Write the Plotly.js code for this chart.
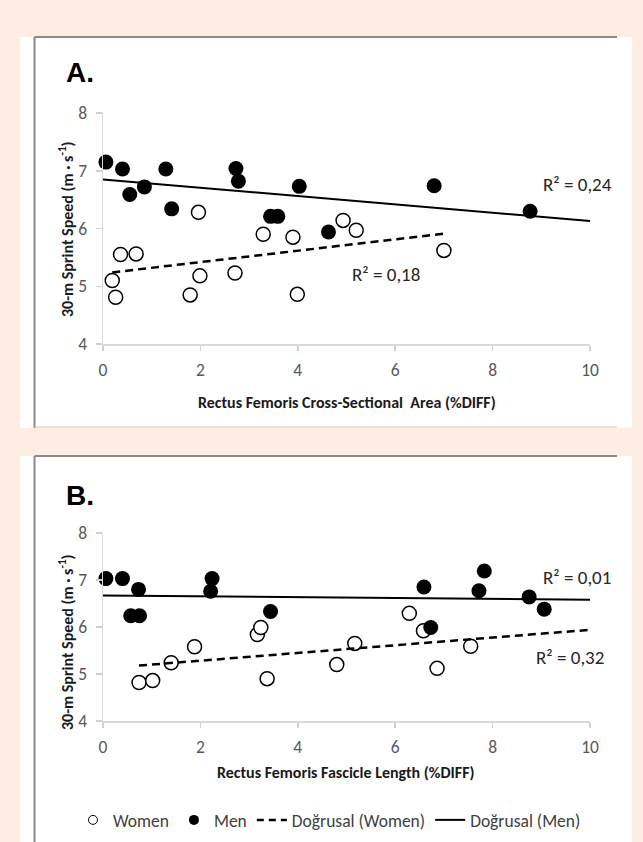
<!DOCTYPE html>
<html>
<head>
<meta charset="utf-8">
<script src="https://cdn.plot.ly/plotly-3.0.1.min.js"></script>
<style>html,body{margin:0;padding:0;background:#fdede3;}#chart{width:643px;height:842px;}</style>
</head>
<body>
<div id="chart"></div>
<script>
// ---- Data ----
// Panel A: Rectus Femoris Cross-Sectional Area (%DIFF)
const womenA_x = [0.19, 0.26, 0.36, 0.68, 1.79, 1.96, 1.99, 2.71, 3.29, 3.90, 3.99, 4.93, 5.20, 7.00];
const womenA_y = [5.10, 4.81, 5.55, 5.56, 4.85, 6.28, 5.18, 5.23, 5.90, 5.85, 4.86, 6.14, 5.97, 5.62];
const menA_x   = [0.06, 0.40, 0.55, 0.85, 1.29, 1.41, 2.73, 2.78, 3.44, 3.59, 4.03, 4.63, 6.80, 8.77];
const menA_y   = [7.15, 7.03, 6.59, 6.72, 7.03, 6.34, 7.04, 6.82, 6.21, 6.21, 6.73, 5.94, 6.74, 6.30];
const trendWomenA_x = [0.19, 7.00];
const trendWomenA_y = [5.24, 5.91];
const trendMenA_x   = [0, 10];
const trendMenA_y   = [6.85, 6.13];

// Panel B: Rectus Femoris Fascicle Length (%DIFF)
const womenB_x = [0.74, 1.02, 1.40, 1.88, 3.17, 3.24, 3.37, 4.80, 5.17, 6.29, 6.58, 6.86, 7.55];
const womenB_y = [4.82, 4.86, 5.24, 5.58, 5.84, 5.99, 4.90, 5.20, 5.65, 6.29, 5.92, 5.12, 5.59];
const menB_x   = [0.06, 0.40, 0.57, 0.73, 0.75, 2.21, 2.24, 3.44, 6.59, 6.73, 7.72, 7.83, 8.75, 9.06];
const menB_y   = [7.03, 7.03, 6.24, 6.80, 6.24, 6.76, 7.03, 6.33, 6.85, 5.99, 6.77, 7.19, 6.64, 6.38];
const trendWomenB_x = [0.74, 10];
const trendWomenB_y = [5.18, 5.94];
const trendMenB_x   = [0, 10];
const trendMenB_y   = [6.67, 6.58];

const xTicks = [0, 2, 4, 6, 8, 10];
const yTicks = [4, 5, 6, 7, 8];
const r2Labels = ["R² = 0,24", "R² = 0,18", "R² = 0,01", "R² = 0,32"];
const legendNames = ["Women", "Men", "Doğrusal (Women)", "Doğrusal (Men)"];
const xTitles = ["Rectus Femoris Cross-Sectional  Area (%DIFF)", "Rectus Femoris Fascicle Length (%DIFF)"];
const yTitle = "30-m Sprint Speed (m · s<sup>-1</sup>)";
const panelLabels = ["A.", "B."];

// ---- Layout helpers ----
const W = 643, H = 842;
const px = v => v / W;
const py = v => 1 - v / H;
const FONT = "Carlito, 'Liberation Sans Narrow', 'Open Sans', sans-serif";

const womenMarker = {symbol: 'circle', size: 14, color: '#ffffff', line: {color: '#000000', width: 1.5}};
const menMarker = {symbol: 'circle', size: 15, color: '#000000', line: {width: 0}};

function panelTraces(wx, wy, mx, my, twx, twy, tmx, tmy, xa, ya) {
  return [
    {x: wx, y: wy, xaxis: xa, yaxis: ya, type: 'scatter', mode: 'markers', marker: womenMarker, showlegend: false, cliponaxis: false, hoverinfo: 'x+y'},
    {x: mx, y: my, xaxis: xa, yaxis: ya, type: 'scatter', mode: 'markers', marker: menMarker, showlegend: false, cliponaxis: false, hoverinfo: 'x+y'},
    {x: twx, y: twy, xaxis: xa, yaxis: ya, type: 'scatter', mode: 'lines', line: {color: '#000000', width: 2.5, dash: '8px,5px'}, showlegend: false},
    {x: tmx, y: tmy, xaxis: xa, yaxis: ya, type: 'scatter', mode: 'lines', line: {color: '#000000', width: 2}, showlegend: false}
  ];
}

const traces = [].concat(
  panelTraces(womenA_x, womenA_y, menA_x, menA_y, trendWomenA_x, trendWomenA_y, trendMenA_x, trendMenA_y, 'x', 'y'),
  panelTraces(womenB_x, womenB_y, menB_x, menB_y, trendWomenB_x, trendWomenB_y, trendMenB_x, trendMenB_y, 'x2', 'y2'),
  [
    {x: [null], y: [null], xaxis: 'x2', yaxis: 'y2', type: 'scatter', mode: 'markers', name: legendNames[0], marker: {symbol: 'circle', size: 9, color: '#ffffff', line: {color: '#000000', width: 1}}},
    {x: [null], y: [null], xaxis: 'x2', yaxis: 'y2', type: 'scatter', mode: 'markers', name: legendNames[1], marker: {symbol: 'circle', size: 10, color: '#000000'}},
    {x: [null], y: [null], xaxis: 'x2', yaxis: 'y2', type: 'scatter', mode: 'lines', name: legendNames[2], line: {color: '#000000', width: 2.5, dash: '7px,5px'}},
    {x: [null], y: [null], xaxis: 'x2', yaxis: 'y2', type: 'scatter', mode: 'lines', name: legendNames[3], line: {color: '#000000', width: 2}}
  ]
);

function xAxis(anchor) {
  return {domain: [px(103), px(590)], anchor: anchor, range: [0, 10], tickvals: xTicks,
    showline: true, linecolor: '#d9d9d9', linewidth: 1.5, ticks: 'outside', ticklen: 5, tickwidth: 1.5, tickcolor: '#d0d0d0',
    tickfont: {family: FONT, size: 17.5, color: '#595959'}, ticklabelstandoff: 4,
    showgrid: false, zeroline: false, fixedrange: true};
}
function yAxis(anchor, top, bottom) {
  return {domain: [py(bottom), py(top)], anchor: anchor, range: [4, 8], tickvals: yTicks,
    showline: true, linecolor: '#d9d9d9', linewidth: 1.5, ticks: 'outside', ticklen: 6, tickwidth: 1.5, tickcolor: '#d0d0d0',
    tickfont: {family: FONT, size: 17.5, color: '#595959'}, ticklabelstandoff: 5,
    showgrid: false, zeroline: false, fixedrange: true};
}

const shapes = [
  // white panels
  {type: 'rect', xref: 'paper', yref: 'paper', x0: px(20), x1: px(632), y0: py(428), y1: py(37), fillcolor: '#ffffff', line: {width: 0}, layer: 'below'},
  {type: 'rect', xref: 'paper', yref: 'paper', x0: px(20), x1: px(632), y0: py(842), y1: py(456), fillcolor: '#ffffff', line: {width: 0}, layer: 'below'},
  // frames
  {type: 'line', xref: 'paper', yref: 'paper', x0: px(34.5), x1: px(617), y0: py(37), y1: py(37), line: {color: '#8a8a8a', width: 2}, layer: 'below'},
  {type: 'line', xref: 'paper', yref: 'paper', x0: px(34.5), x1: px(34.5), y0: py(37), y1: py(428), line: {color: '#8a8a8a', width: 2}, layer: 'below'},
  {type: 'line', xref: 'paper', yref: 'paper', x0: px(34.5), x1: px(617), y0: py(427), y1: py(427), line: {color: '#c8c8c8', width: 1}, layer: 'below'},
  {type: 'line', xref: 'paper', yref: 'paper', x0: px(34.5), x1: px(617), y0: py(456), y1: py(456), line: {color: '#8a8a8a', width: 2}, layer: 'below'},
  {type: 'line', xref: 'paper', yref: 'paper', x0: px(34.5), x1: px(34.5), y0: py(456), y1: py(842), line: {color: '#8a8a8a', width: 2}, layer: 'below'}
];

const txt = {family: FONT, size: 19, color: '#262626'};
const bold = {family: FONT, size: 16, color: '#1a1a1a', weight: 'bold'};
function ann(text, x, y, font, extra) {
  return Object.assign({text: text, xref: 'paper', yref: 'paper', x: px(x), y: py(y), showarrow: false, font: font, xanchor: 'center', yanchor: 'middle'}, extra || {});
}
const annotations = [
  ann(panelLabels[0], 64, 73, {family: "'Liberation Sans', Arial, sans-serif", size: 28, color: '#000000', weight: 'bold'}, {xanchor: 'left'}),
  ann(panelLabels[1], 64, 496, {family: "'Liberation Sans', Arial, sans-serif", size: 28, color: '#000000', weight: 'bold'}, {xanchor: 'left'}),
  ann(xTitles[0], 347, 402, bold),
  ann(xTitles[1], 346, 772, bold),
  ann(yTitle, 66, 229, bold, {textangle: -90}),
  ann(yTitle, 66, 642, bold, {textangle: -90}),
  ann(r2Labels[0], 577, 184, txt),
  ann(r2Labels[1], 386, 274, txt),
  ann(r2Labels[2], 577, 577, txt),
  ann(r2Labels[3], 570, 657, txt)
];

const layout = {
  width: W, height: H,
  margin: {l: 0, r: 0, t: 0, b: 0},
  paper_bgcolor: '#fdede3', plot_bgcolor: 'rgba(0,0,0,0)',
  font: {family: FONT, color: '#404040'},
  xaxis: xAxis('y'), yaxis: yAxis('x', 113, 344),
  xaxis2: xAxis('y2'), yaxis2: yAxis('x2', 533, 721),
  showlegend: true,
  legend: {orientation: 'h', x: px(73), xanchor: 'left', y: py(820), yanchor: 'middle',
    bgcolor: 'rgba(0,0,0,0)', font: {family: FONT, size: 17.5, color: '#404040'}, itemclick: false, itemdoubleclick: false},
  shapes: shapes, annotations: annotations
};

Plotly.newPlot('chart', traces, layout, {staticPlot: true, displayModeBar: false});
</script>
</body>
</html>
